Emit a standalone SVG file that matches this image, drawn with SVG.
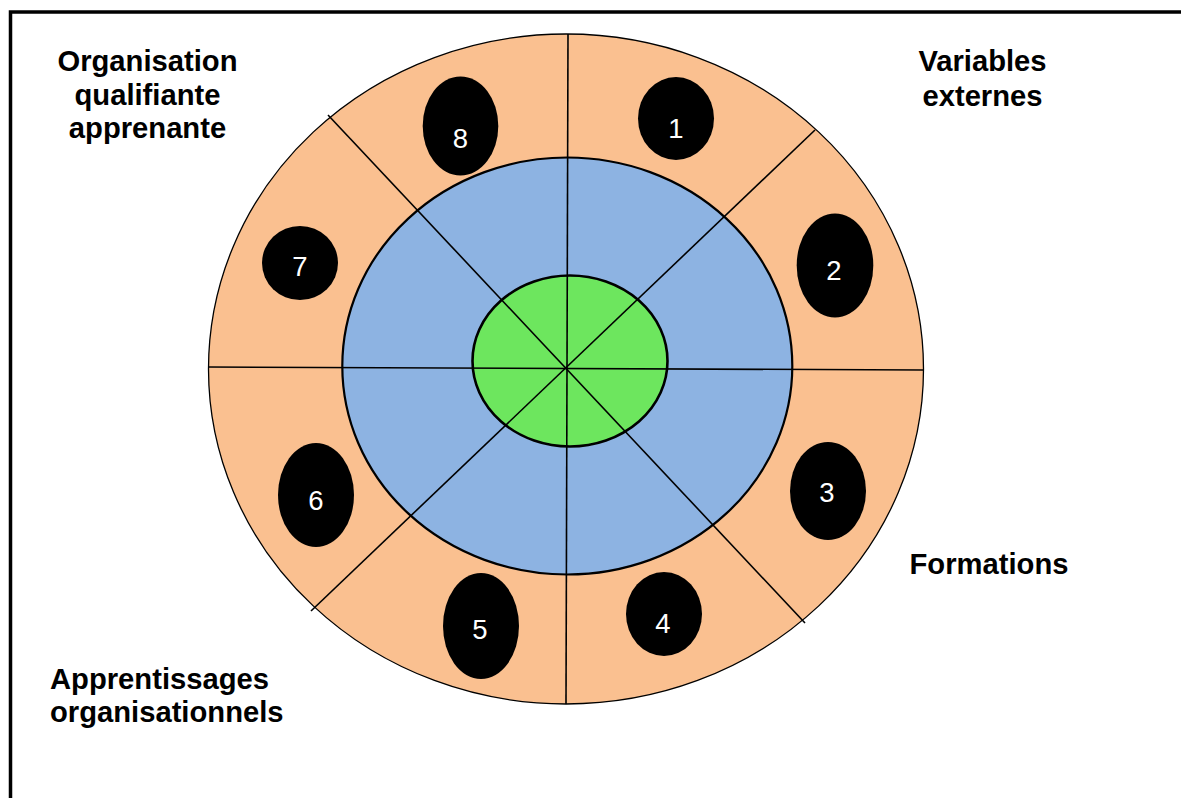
<svg xmlns="http://www.w3.org/2000/svg" width="1181" height="798" viewBox="0 0 1181 798">
<style>
.lbl{font-family:"Liberation Sans",Arial,sans-serif;font-weight:bold;font-size:29.2px;fill:#000}
.num{font-family:"Liberation Sans",Arial,sans-serif;font-size:27.5px;fill:#fff;text-anchor:middle}
.dot{fill:#000}
.sep{stroke:#000;stroke-width:1.6;fill:none}
</style>
<rect x="0" y="0" width="1181" height="798" fill="#fff"/>
<rect x="10.5" y="12" width="1200" height="1000" fill="none" stroke="#000" stroke-width="3.5"/>
<g id="ring-outer"><ellipse cx="566" cy="369" rx="357.5" ry="335" fill="#FAC090" stroke="#000" stroke-width="1.3"/></g>
<g id="ring-middle"><ellipse cx="567.3" cy="366" rx="225" ry="208.5" fill="#8DB3E2" stroke="#000" stroke-width="2.2"/></g>
<g id="core"><ellipse cx="570" cy="361" rx="97.5" ry="85.5" fill="#6DE65E" stroke="#000" stroke-width="2.6"/></g>
<g id="connectors">
<line class="sep" x1="568" y1="34" x2="566" y2="704"/>
<line class="sep" x1="208" y1="367" x2="923" y2="370"/>
<line class="sep" x1="328" y1="115" x2="805" y2="623"/>
<line class="sep" x1="815" y1="130" x2="311" y2="611"/>
</g>
<g id="n1"><ellipse class="dot" cx="676" cy="118.5" rx="38" ry="41.5"/><text class="num" x="676" y="138">1</text></g>
<g id="n2"><ellipse class="dot" cx="835" cy="265.5" rx="38.3" ry="52"/><text class="num" x="834" y="280">2</text></g>
<g id="n3"><ellipse class="dot" cx="828" cy="491" rx="38" ry="49"/><text class="num" x="827" y="502">3</text></g>
<g id="n4"><ellipse class="dot" cx="664" cy="614" rx="38" ry="42"/><text class="num" x="663" y="633">4</text></g>
<g id="n5"><ellipse class="dot" cx="481" cy="626" rx="38" ry="53"/><text class="num" x="480" y="639">5</text></g>
<g id="n6"><ellipse class="dot" cx="316" cy="495" rx="38" ry="52"/><text class="num" x="316" y="510">6</text></g>
<g id="n7"><ellipse class="dot" cx="300" cy="263" rx="38" ry="37"/><text class="num" x="300" y="276">7</text></g>
<g id="n8"><ellipse class="dot" cx="460.5" cy="126" rx="37.8" ry="49.5"/><text class="num" x="460.5" y="148">8</text></g>
<g id="label-organisation"><text class="lbl" text-anchor="middle"><tspan x="147.5" y="71">Organisation</tspan><tspan x="147.5" y="104.5">qualifiante</tspan><tspan x="147.5" y="138">apprenante</tspan></text></g>
<g id="label-variables"><text class="lbl" text-anchor="middle"><tspan x="982.5" y="71">Variables</tspan><tspan x="982.5" y="106">externes</tspan></text></g>
<g id="label-formations"><text class="lbl" text-anchor="middle" x="989" y="574">Formations</text></g>
<g id="label-apprentissages"><text class="lbl"><tspan x="50" y="689">Apprentissages</tspan><tspan x="50" y="722">organisationnels</tspan></text></g>
</svg>
